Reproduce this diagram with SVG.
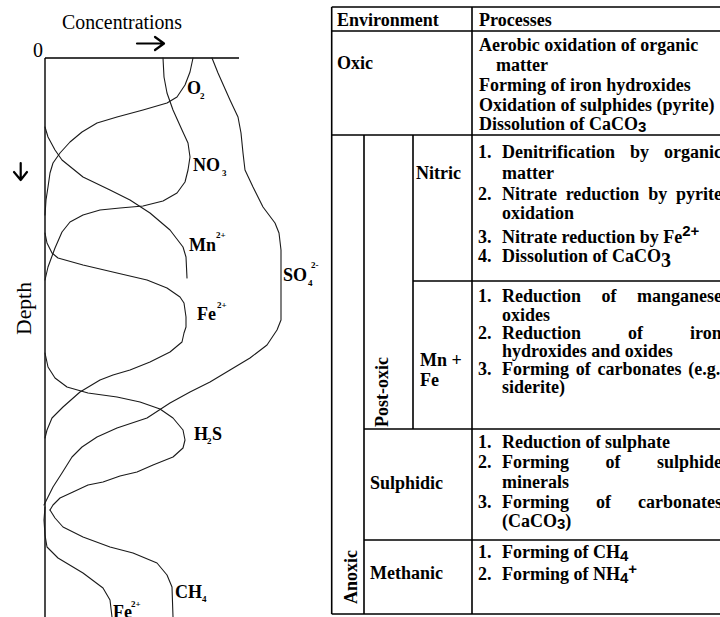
<svg xmlns="http://www.w3.org/2000/svg" width="720" height="617" viewBox="0 0 720 617">
<style>
.t{font-family:"Liberation Serif","Times New Roman",serif;font-weight:bold;font-size:18px;fill:#000}
.r{font-family:"Liberation Serif","Times New Roman",serif;font-size:20px;fill:#000}
.lb{font-family:"Liberation Serif","Times New Roman",serif;font-weight:bold;font-size:18px;fill:#000}
.sm{font-family:"Liberation Serif","Times New Roman",serif;font-weight:bold;font-size:9px;fill:#000}
.ss{font-family:"Liberation Sans",Arial,sans-serif;font-weight:bold;font-size:15px;fill:#000}
.cv{fill:none;stroke:#1a1a1a;stroke-width:1.1;stroke-linejoin:round;stroke-linecap:round}
.ax{fill:none;stroke:#000;stroke-width:1.4}
.ar{fill:none;stroke:#000;stroke-width:2.2;stroke-linecap:round;stroke-linejoin:round}
.gl{stroke:#000;stroke-width:1.6;fill:none}
</style>

<g id="chart">
  <g id="axes">
    <text class="r" x="62" y="29" textLength="120" lengthAdjust="spacingAndGlyphs">Concentrations</text>
    <text class="r" x="33" y="57">0</text>
    <path class="ar" d="M137,43.5 L163,43.5 M155,37 L164,43.5 L155,50"/>
    <path class="ar" d="M20.7,163 L20.7,180 M14,172 L20.7,180 L27,172"/>
    <text class="r" transform="translate(31,335) rotate(-90)" font-size="21" textLength="53" lengthAdjust="spacingAndGlyphs">Depth</text>
    <path class="ax" d="M45,58 L239,58 M45,58 L45,617"/>
  </g>
  <g id="curves">
    <path id="c-o2" class="cv" d="M193,58 L190,72 L185,85 L177,97 L167,103 L143,110 L117,117 L97,123 L82,132 L70,142 L60,153 L53,163 L50,173 L48,187 L46,200 L45,215"/>
    <path id="c-no3" class="cv" d="M163,58 L164,77 L167,93 L173,110 L182,130 L188,143 L190,157 L188,170 L185,182 L177,193 L163,201 L143,206 L120,208 L100,210 L83,215 L70,222 L62,232 L55,248 L48,267 L45,280"/>
    <path id="c-mn" class="cv" d="M45,127 L48,137 L55,150 L62,160 L83,177 L110,190 L130,200 L150,213 L170,230 L183,247 L186,257 L187,278"/>
    <path id="c-so4" class="cv" d="M212,58 L218,73 L230,100 L238,117 L241,133 L243,153 L245,170 L253,187 L263,207 L275,223 L279,233 L281,250 L281,273 L281,320 L277,330 L267,345 L250,358 L230,370 L210,382 L190,392 L170,403 L147,418 L117,428 L97,437 L82,447 L72,457 L62,473 L53,487 L48,497 L44,505"/>
    <path id="c-fe1" class="cv" d="M45,233 L47,243 L52,253 L58,258 L83,265 L117,273 L147,280 L167,288 L180,297 L184,303 L186,317 L186,327 L184,333 L182,342 L170,352 L150,362 L130,370 L113,375 L100,380 L80,392 L63,407 L52,418 L47,430 L45,438"/>
    <path id="c-h2s" class="cv" d="M45,353 L48,367 L55,378 L67,387 L88,393 L117,397 L140,402 L160,409 L173,418 L183,430 L185,440 L183,448 L173,457 L153,465 L137,472 L120,476 L103,482 L88,485 L73,492 L60,498 L53,505 L50,510"/>
    <path id="c-ch4" class="cv" d="M50,510 L55,518 L63,527 L83,537 L110,547 L133,553 L157,563 L167,575 L172,587 L173,617"/>
    <path id="c-fe2" class="cv" d="M45,507 L44,520 L45,535 L47,547 L58,558 L83,573 L103,588 L110,600 L112,617"/>
  </g>
  <g id="labels">
    <text class="lb" x="187" y="94">O</text><text class="sm" x="200" y="99">2</text>
    <text class="lb" x="193" y="171">NO</text><text class="sm" x="222" y="176">3</text>
    <text class="lb" x="189" y="251">Mn</text><text class="sm" x="216" y="238">2+</text>
    <text class="lb" x="197" y="320">Fe</text><text class="sm" x="217" y="308">2+</text>
    <text class="lb" x="283" y="281">SO</text><text class="sm" x="308" y="286">4</text><text class="sm" x="311" y="268">2-</text>
    <text class="lb" x="194" y="440">H</text><text class="sm" x="207" y="444">2</text><text class="lb" x="212" y="440">S</text>
    <text class="lb" x="175" y="598">CH</text><text class="sm" x="202" y="602">4</text>
    <text class="lb" x="113" y="618">Fe</text><text class="sm" x="131" y="607">2+</text>
  </g>
</g>

<g id="table">
  <g id="grid">
    <path class="gl" d="M331.7,7 L720,7 M331.7,31 L720,31 M331.7,135 L720,135 M413,281 L720,281 M364,429 L720,429 M364,540 L720,540 M331.7,614 L720,614"/>
    <path class="gl" d="M331.7,7 L331.7,614 M472,7 L472,614 M364,135 L364,614 M413,135 L413,429"/>
  </g>
  <g id="header">
    <text class="t" x="337" y="26">Environment</text>
    <text class="t" x="479" y="26">Processes</text>
  </g>
  <g id="oxic">
    <text class="t" x="337" y="69">Oxic</text>
    <text class="t" x="479" y="51">Aerobic oxidation of organic</text>
    <text class="t" x="496" y="71">matter</text>
    <text class="t" x="479" y="91">Forming of iron hydroxides</text>
    <text class="t" x="479" y="111">Oxidation of sulphides (pyrite)</text>
    <text class="t" x="479" y="130">Dissolution of CaCO<tspan class="ss" dy="2">3</tspan></text>
  </g>
  <g id="post-oxic">
    <text class="t" transform="translate(388,427) rotate(-90)">Post-oxic</text>
  </g>
  <g id="nitric">
    <text class="t" x="416" y="179">Nitric</text>
    <text class="t" x="478" y="158">1.</text>
    <text class="t" y="158"><tspan x="502">Denitrification</tspan><tspan x="630">by</tspan><tspan x="664">organic</tspan></text>
    <text class="t" x="502" y="179">matter</text>
    <text class="t" x="478" y="200">2.</text>
    <text class="t" y="200"><tspan x="502">Nitrate</tspan><tspan x="565.7">reduction</tspan><tspan x="648.3">by</tspan><tspan x="676">pyrite</tspan></text>
    <text class="t" x="502" y="219">oxidation</text>
    <text class="t" x="478" y="243">3.</text>
    <text class="t" x="502" y="243">Nitrate reduction by Fe<tspan class="ss" font-size="14" dy="-7">2+</tspan></text>
    <text class="t" x="478" y="262">4.</text>
    <text class="t" x="502" y="262">Dissolution of CaCO<tspan font-size="20" dy="5">3</tspan></text>
  </g>
  <g id="mn-fe">
    <text class="t" x="420" y="366">Mn +</text>
    <text class="t" x="420" y="386">Fe</text>
    <text class="t" x="478" y="302">1.</text>
    <text class="t" y="302"><tspan x="502">Reduction</tspan><tspan x="601.5">of</tspan><tspan x="637">manganese</tspan></text>
    <text class="t" x="502" y="321">oxides</text>
    <text class="t" x="478" y="339">2.</text>
    <text class="t" y="339"><tspan x="502">Reduction</tspan><tspan x="628">of</tspan><tspan x="690">iron</tspan></text>
    <text class="t" x="502" y="357">hydroxides and oxides</text>
    <text class="t" x="478" y="375">3.</text>
    <text class="t" y="375"><tspan x="502">Forming</tspan><tspan x="575.8">of</tspan><tspan x="597.5">carbonates</tspan><tspan x="688.3">(e.g.</tspan></text>
    <text class="t" x="502" y="393">siderite)</text>
  </g>
  <g id="sulphidic">
    <text class="t" x="370" y="489">Sulphidic</text>
    <text class="t" x="478" y="448">1.</text>
    <text class="t" x="502" y="448">Reduction of sulphate</text>
    <text class="t" x="478" y="468">2.</text>
    <text class="t" y="468"><tspan x="502">Forming</tspan><tspan x="605.5">of</tspan><tspan x="657">sulphide</tspan></text>
    <text class="t" x="502" y="488">minerals</text>
    <text class="t" x="478" y="508">3.</text>
    <text class="t" y="508"><tspan x="502">Forming</tspan><tspan x="596">of</tspan><tspan x="638">carbonates</tspan></text>
    <text class="t" x="502" y="527">(CaCO<tspan class="ss" dy="2">3</tspan><tspan dy="-2">)</tspan></text>
  </g>
  <g id="methanic">
    <text class="t" x="370" y="579">Methanic</text>
    <text class="t" x="478" y="558">1.</text>
    <text class="t" x="502" y="558">Forming of CH<tspan class="ss" dy="3">4</tspan></text>
    <text class="t" x="478" y="580">2.</text>
    <text class="t" x="502" y="580">Forming of NH<tspan class="ss" dy="3">4</tspan><tspan class="ss" dy="-9">+</tspan></text>
  </g>
  <g id="anoxic">
    <text class="t" transform="translate(357,604) rotate(-90)">Anoxic</text>
  </g>
</g>
</svg>
